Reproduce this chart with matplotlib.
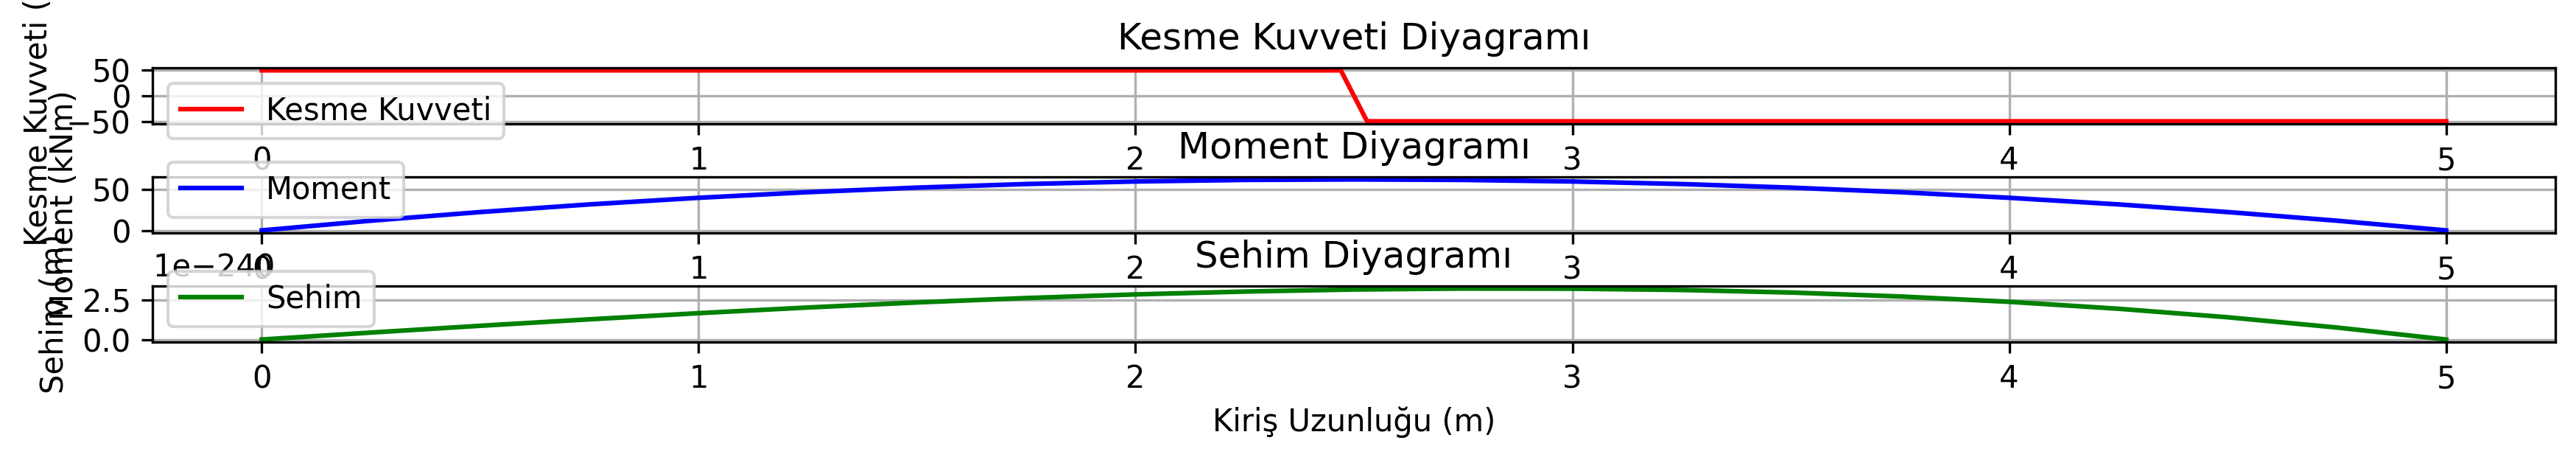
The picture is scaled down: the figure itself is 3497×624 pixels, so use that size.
import numpy as np
import matplotlib
matplotlib.use("Agg")
import matplotlib.pyplot as plt

# kesme kuvveti (kN)
x_shear = [0, 2.47, 2.53, 5]
shear = [50, 50, -50, -50]

# moment (kNm), read every 0.25 m
x_pts = [0, 0.25, 0.5, 0.75, 1, 1.25, 1.5, 1.75, 2, 2.25, 2.5,
         2.75, 3, 3.25, 3.5, 3.75, 4, 4.25, 4.5, 4.75, 5]
moment = [0, 11.9, 22.5, 31.9, 40, 46.9, 52.5, 56.9, 60, 61.9, 62.5,
          61.9, 60, 56.9, 52.5, 46.9, 40, 31.9, 22.5, 11.9, 0]

# sehim, in units of 1e-240 m
sehim = [0, 0.44, 0.87, 1.28, 1.67, 2.03, 2.35, 2.63, 2.86, 3.04, 3.17,
         3.23, 3.22, 3.14, 2.98, 2.73, 2.39, 1.95, 1.41, 0.76, 0]
sehim_scale = 1e-240

fig, axs = plt.subplots(3, 1, figsize=(3497 / 300, 624 / 300), dpi=300)
fig.subplots_adjust(left=0.0592, right=0.992, top=0.8526, bottom=0.2564, hspace=0.947)

axs[0].plot(x_shear, shear, color='r', label='Kesme Kuvveti')
axs[0].set_title('Kesme Kuvveti Diyagramı')
axs[0].set_ylabel('Kesme Kuvveti (kN)')
axs[0].grid(True)
axs[0].legend(loc='upper left')

axs[1].plot(x_pts, moment, color='b', label='Moment')
axs[1].set_title('Moment Diyagramı')
axs[1].set_ylabel('Moment (kNm)')
axs[1].grid(True)
axs[1].legend(loc='lower left')

axs[2].plot(x_pts, np.array(sehim) * sehim_scale, color='g', label='Sehim')
axs[2].set_title('Sehim Diyagramı')
axs[2].set_ylabel('Sehim (m)')
axs[2].set_xlabel('Kiriş Uzunluğu (m)')
axs[2].grid(True)
axs[2].legend(loc='lower left')

fig.savefig('out.png', dpi=300)
